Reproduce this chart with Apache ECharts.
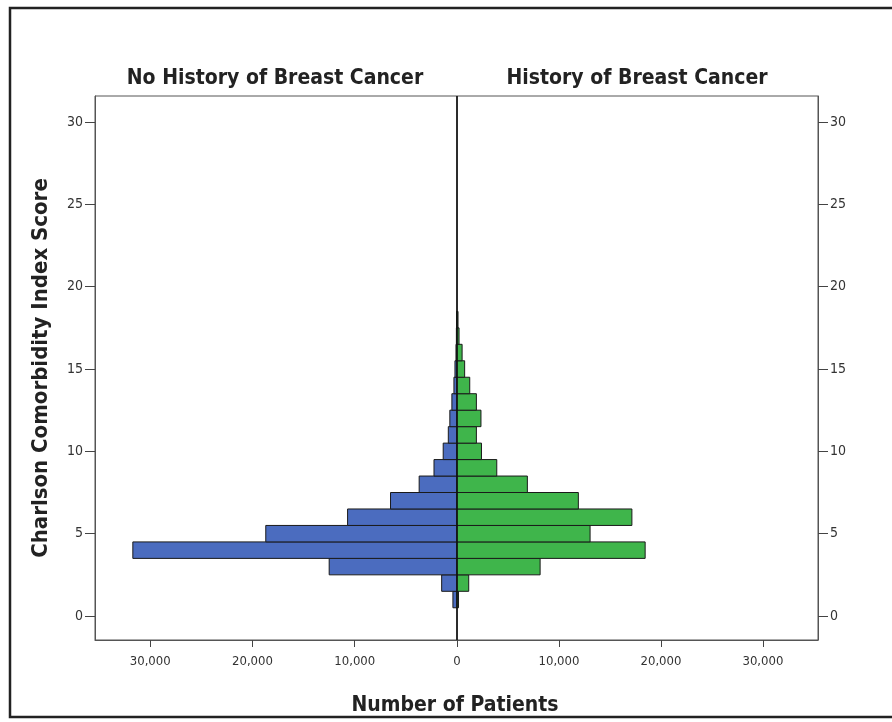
<!DOCTYPE html>
<html>
<head>
<meta charset="utf-8">
<script src="https://cdn.jsdelivr.net/npm/echarts@6/dist/echarts.min.js"></script>
<style>html,body{margin:0;padding:0;background:#fff;}#c{width:892px;height:722px;}</style>
</head>
<body>
<div id="c"></div>
<script>
var scores = [1,2,3,4,5,6,7,8,9,10,11,12,13,14,15,16,17,18];
var noHistoryBC = [400,1500,12500,31700,18700,10700,6500,3700,2250,1350,850,700,500,300,200,100,60,30];
var historyBC = [150,1150,8150,18450,13050,17150,11900,6900,3900,2400,1900,2350,1900,1250,750,500,200,100];
var yTicks = [0,5,10,15,20,25,30];
var leftXTicks = [0,10000,20000,30000];
var rightXTicks = [10000,20000,30000];
var panelTitles = ['No History of Breast Cancer','History of Breast Cancer'];

var FONT = 'DejaVu Sans Condensed';
var chart = echarts.init(document.getElementById('c'), null, {renderer:'canvas'});

function fmt(v){ return echarts.format.addCommas(v); }

function makeRender(fill){
  return function(params, api){
    var v = api.value(0), s = api.value(1);
    var p1 = api.coord([0, s + 0.5]);
    var p2 = api.coord([v, s - 0.5]);
    var x = Math.min(p1[0], p2[0]);
    return {
      type:'rect',
      shape:{x:x, y:p1[1], width:Math.abs(p2[0]-p1[0]), height:p2[1]-p1[1]},
      style:{fill:fill, stroke:'#1a1a1a', lineWidth:1}
    };
  };
}

function yAxisCfg(idx, pos){
  return {
    type:'value', min:-1.457, max:31.58, gridIndex:idx, position:pos,
    splitLine:{show:false},
    axisLine:{show:true, onZero:false, lineStyle:{color:'#555', width:1}},
    axisTick:{show:true, length:10, customValues:yTicks, lineStyle:{color:'#444'}},
    axisLabel:{customValues:yTicks, color:'#333', fontFamily:FONT, fontSize:14, margin:12}
  };
}
function xAxisCfg(idx, inverse, ticks){
  return {
    type:'value', min:0, max:35400, gridIndex:idx, inverse:inverse,
    splitLine:{show:false},
    axisLine:{show:true, onZero:false, lineStyle:{color:'#555', width:1}},
    axisTick:{show:true, length:7, customValues:ticks, lineStyle:{color:'#444'}},
    axisLabel:{customValues:ticks, color:'#333', fontFamily:FONT, fontSize:13, margin:15, formatter:fmt}
  };
}

var yLeft = yAxisCfg(0, 'left');
yLeft.name = 'Charlson Comorbidity Index Score';
yLeft.nameLocation = 'middle';
yLeft.nameGap = 43;
yLeft.nameRotate = 90;
yLeft.nameTextStyle = {fontFamily:FONT, fontWeight:'bold', fontSize:22, color:'#222'};

var option = {
  backgroundColor:'#fff',
  animation:false,
  title:[
    {text:panelTitles[0], left:270, top:63, textAlign:'center',
     textStyle:{fontFamily:FONT, fontWeight:'bold', fontSize:21, color:'#222'}},
    {text:panelTitles[1], left:632, top:63, textAlign:'center',
     textStyle:{fontFamily:FONT, fontWeight:'bold', fontSize:21, color:'#222'}},
    {text:'Number of Patients', left:450, top:690, textAlign:'center',
     textStyle:{fontFamily:FONT, fontWeight:'bold', fontSize:21, color:'#222'}}
  ],
  graphic:[
    {type:'rect', shape:{x:10, y:8, width:900, height:709},
     style:{fill:'none', stroke:'#222', lineWidth:2.5}, silent:true, z:-1}
  ],
  grid:[
    {left:95, right:435, top:96, bottom:82, show:true, borderColor:'#555', borderWidth:1},
    {left:457, right:74, top:96, bottom:82, show:true, borderColor:'#555', borderWidth:1}
  ],
  xAxis:[xAxisCfg(0, true, leftXTicks), xAxisCfg(1, false, rightXTicks)],
  yAxis:[yLeft, yAxisCfg(1, 'right')],
  series:[
    {type:'custom', xAxisIndex:0, yAxisIndex:0, renderItem:makeRender('#4b6cbf'),
     encode:{x:0, y:1}, data:scores.map(function(s,i){return [noHistoryBC[i], s];})},
    {type:'custom', xAxisIndex:1, yAxisIndex:1, renderItem:makeRender('#3fb54b'),
     encode:{x:0, y:1}, data:scores.map(function(s,i){return [historyBC[i], s];})},
    {type:'line', xAxisIndex:1, yAxisIndex:1, symbol:'none', silent:true,
     lineStyle:{color:'#111', width:1.5}, data:[[0,-1.457],[0,31.58]], z:5}
  ]
};
chart.setOption(option);
</script>
</body>
</html>
